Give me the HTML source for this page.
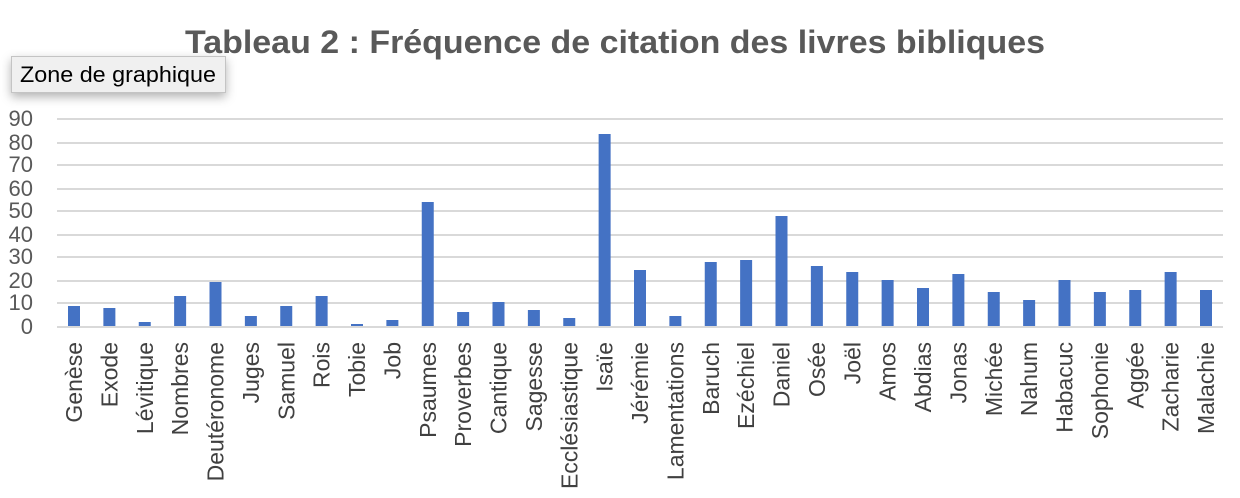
<!DOCTYPE html>
<html><head><meta charset="utf-8"><style>
html,body{margin:0;padding:0;background:#fff;width:1240px;height:498px;overflow:hidden}
svg{display:block}
</style></head><body>
<svg width="1240" height="498" xmlns="http://www.w3.org/2000/svg" font-family="Liberation Sans, sans-serif">
<defs><filter id="sh" x="-20%" y="-50%" width="140%" height="220%"><feDropShadow dx="0" dy="4" stdDeviation="5" flood-color="#000" flood-opacity="0.3"/></filter></defs>
<text x="615" y="53" text-anchor="middle" font-size="32" font-weight="bold" fill="#595959" textLength="860" lengthAdjust="spacingAndGlyphs">Tableau 2 : Fréquence de citation des livres bibliques</text>
<g stroke="#d9d9d9" stroke-width="2">
<line x1="57" x2="1223" y1="119" y2="119"/><line x1="57" x2="1223" y1="143" y2="143"/><line x1="57" x2="1223" y1="165" y2="165"/><line x1="57" x2="1223" y1="189" y2="189"/><line x1="57" x2="1223" y1="211" y2="211"/><line x1="57" x2="1223" y1="235" y2="235"/><line x1="57" x2="1223" y1="257" y2="257"/><line x1="57" x2="1223" y1="281" y2="281"/><line x1="57" x2="1223" y1="303" y2="303"/><line x1="57" x2="1223" y1="327" y2="327"/>
</g>
<g font-size="22" fill="#595959" text-anchor="end">
<text x="33" y="126">90</text><text x="33" y="150">80</text><text x="33" y="172">70</text><text x="33" y="196">60</text><text x="33" y="218">50</text><text x="33" y="242">40</text><text x="33" y="264">30</text><text x="33" y="288">20</text><text x="33" y="310">10</text><text x="33" y="334">0</text>
</g>
<g id="bars" fill="#4472c4"></g>
<g id="labels" font-size="23" fill="#404040"></g>
<g filter="url(#sh)"><rect x="11.5" y="56.5" width="214" height="36" fill="#f0f0f0" stroke="#c4c4c4"/></g>
<text x="20" y="82" font-size="22" fill="#000" textLength="196" lengthAdjust="spacingAndGlyphs">Zone de graphique</text>
<script>
var names=["Genèse","Exode","Lévitique","Nombres","Deutéronome","Juges","Samuel","Rois","Tobie","Job","Psaumes","Proverbes","Cantique","Sagesse","Ecclésiastique","Isaïe","Jérémie","Lamentations","Baruch","Ezéchiel","Daniel","Osée","Joël","Amos","Abdias","Jonas","Michée","Nahum","Habacuc","Sophonie","Aggée","Zacharie","Malachie"];
var tops=[306,308,322,296,282,316,306,296,324,320,202,312,302,310,318,134,270,316,262,260,216,266,272,280,288,274,292,300,280,292,290,272,290];
var ns="http://www.w3.org/2000/svg",b=document.getElementById("bars"),l=document.getElementById("labels");
for(var i=0;i<33;i++){var cx=74+i*35.375;
var r=document.createElementNS(ns,"rect");r.setAttribute("x",cx-6);r.setAttribute("y",tops[i]);r.setAttribute("width",12);r.setAttribute("height",326-tops[i]);b.appendChild(r);
var t=document.createElementNS(ns,"text");t.setAttribute("text-anchor","end");t.setAttribute("transform","translate("+(cx+8)+",342) rotate(-90)");t.textContent=names[i];l.appendChild(t);}
</script>
</svg>
</body></html>
